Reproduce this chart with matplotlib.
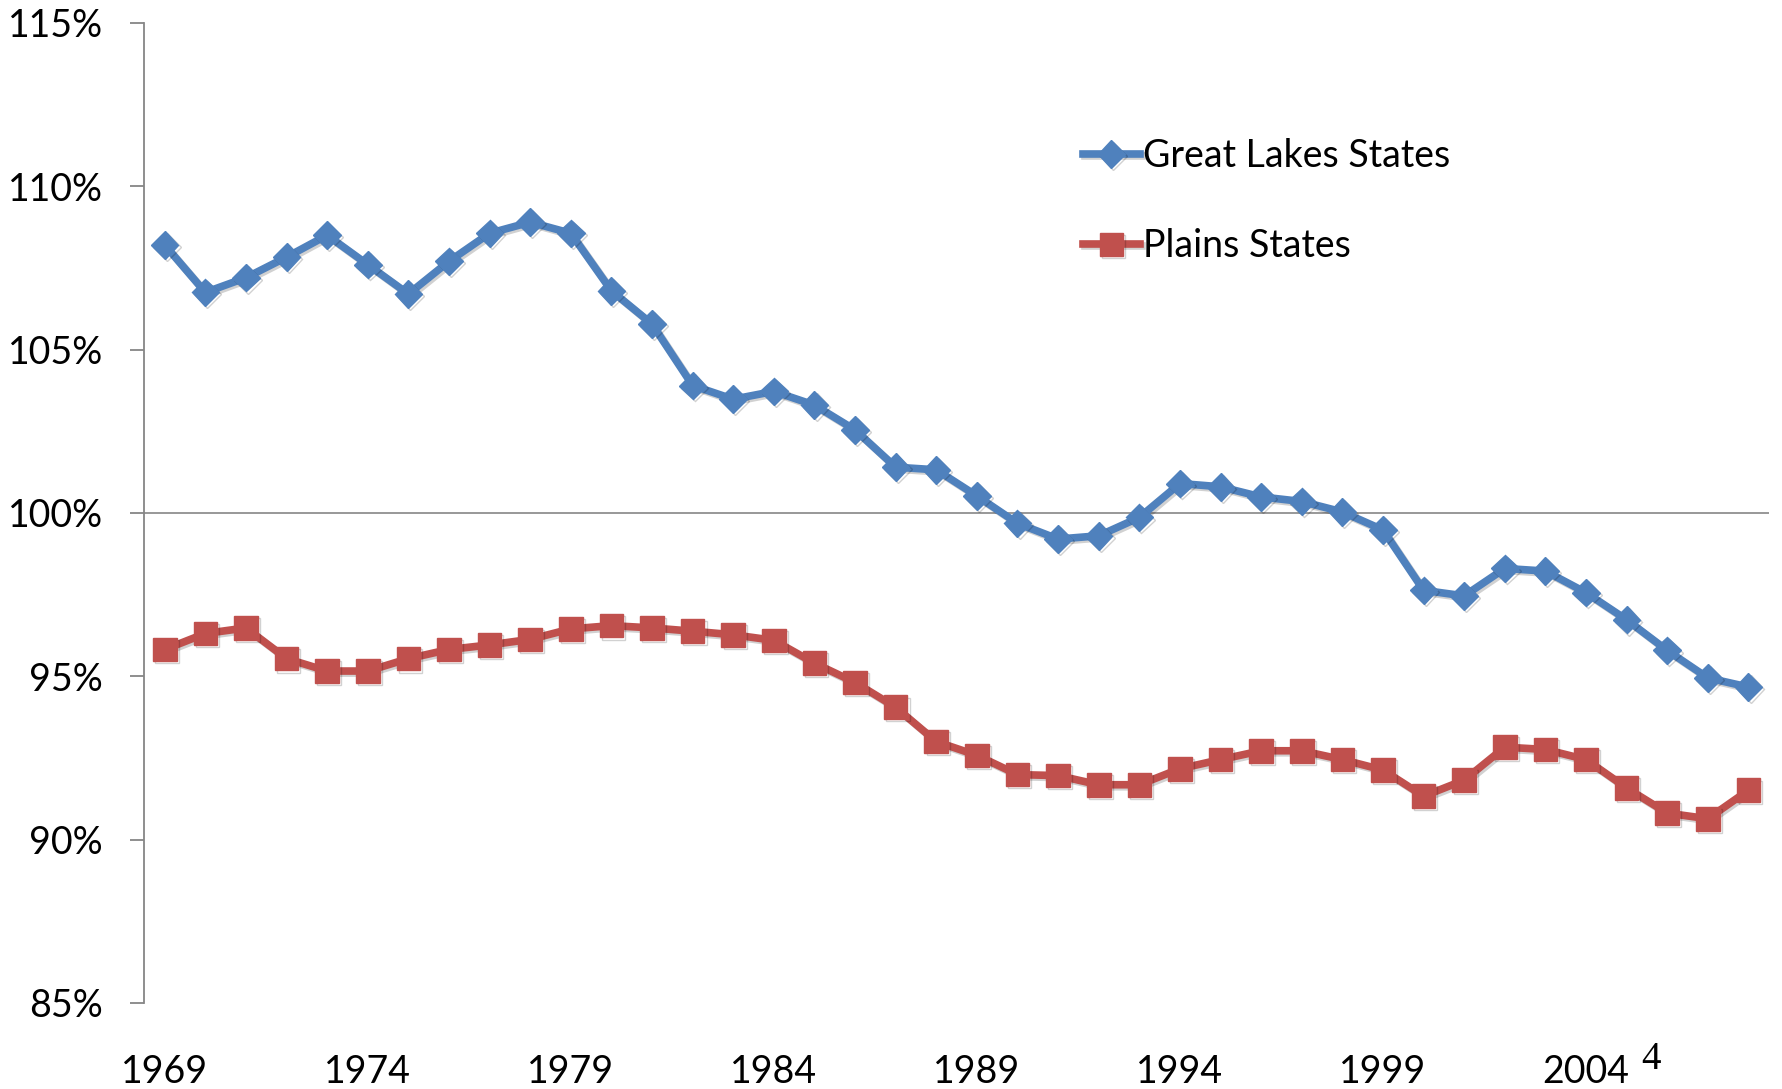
import matplotlib
matplotlib.use("Agg")
import matplotlib.pyplot as plt
import matplotlib.patheffects as pe
import numpy as np

years = list(range(1969, 2009))
great_lakes = [108.2, 106.75, 107.2, 107.83, 108.5, 107.6, 106.7, 107.7, 108.56, 108.9,
               108.56, 106.8, 105.78, 103.9, 103.48, 103.72, 103.3, 102.54, 101.4, 101.32,
               100.52, 99.68, 99.2, 99.3, 99.86, 100.9, 100.8, 100.49, 100.35, 100.03,
               99.48, 97.63, 97.46, 98.3, 98.22, 97.56, 96.73, 95.79, 94.95, 94.67]
plains = [95.82, 96.31, 96.48, 95.54, 95.16, 95.16, 95.54, 95.82, 95.96, 96.13,
          96.45, 96.55, 96.48, 96.38, 96.27, 96.1, 95.4, 94.81, 94.05, 93.0,
          92.58, 91.99, 91.96, 91.68, 91.68, 92.17, 92.45, 92.72, 92.72, 92.45,
          92.13, 91.33, 91.82, 92.83, 92.76, 92.45, 91.58, 90.81, 90.64, 91.51]
y_ticks = [85, 90, 95, 100, 105, 110, 115]

plt.rcParams['font.family'] = ['Lato', 'DejaVu Sans']

fig = plt.figure(figsize=(17.83, 10.89), dpi=100)
ax = fig.add_axes([0.081, 0.079, 0.911, 0.9])

x = np.arange(len(years))
shadow = [pe.SimpleLineShadow(offset=(1.5, -1.5), alpha=0.18), pe.Normal()]
ax.plot(x, great_lakes, color="#4F81BD", lw=5.5, marker="D", ms=14,
        label="Great Lakes States", path_effects=shadow)
ax.plot(x, plains, color="#C0504D", lw=5.5, marker="s", ms=17,
        label="Plains States", path_effects=shadow)

ax.axhline(100, color="#868686", lw=1.2, zorder=0)

ax.set_xlim(-0.5, len(years) - 0.5)
ax.set_ylim(85, 115)
ax.set_yticks(y_ticks)
ax.set_yticklabels([f"{v}%" for v in y_ticks])
ax.set_xticks(x[::5])
ax.set_xticklabels([str(y) for y in years[::5]])

for s in ["top", "right", "bottom"]:
    ax.spines[s].set_visible(False)
ax.spines["left"].set_color("#868686")
ax.spines["left"].set_linewidth(1.3)

ax.tick_params(axis="y", length=10, width=1.3, color="#868686", pad=20, labelsize=27)
ax.tick_params(axis="x", length=0, pad=37, labelsize=27)

ax.legend(loc="center left", bbox_to_anchor=(0.578, 0.818), frameon=False,
          fontsize=27, handlelength=1.5, handletextpad=0.1, labelspacing=1.45,
          borderpad=0, borderaxespad=0)

fig.text(0.926, 0.027, "4", family="Liberation Serif", fontsize=28, ha="center", va="center")

plt.savefig("out.png", dpi=100)
